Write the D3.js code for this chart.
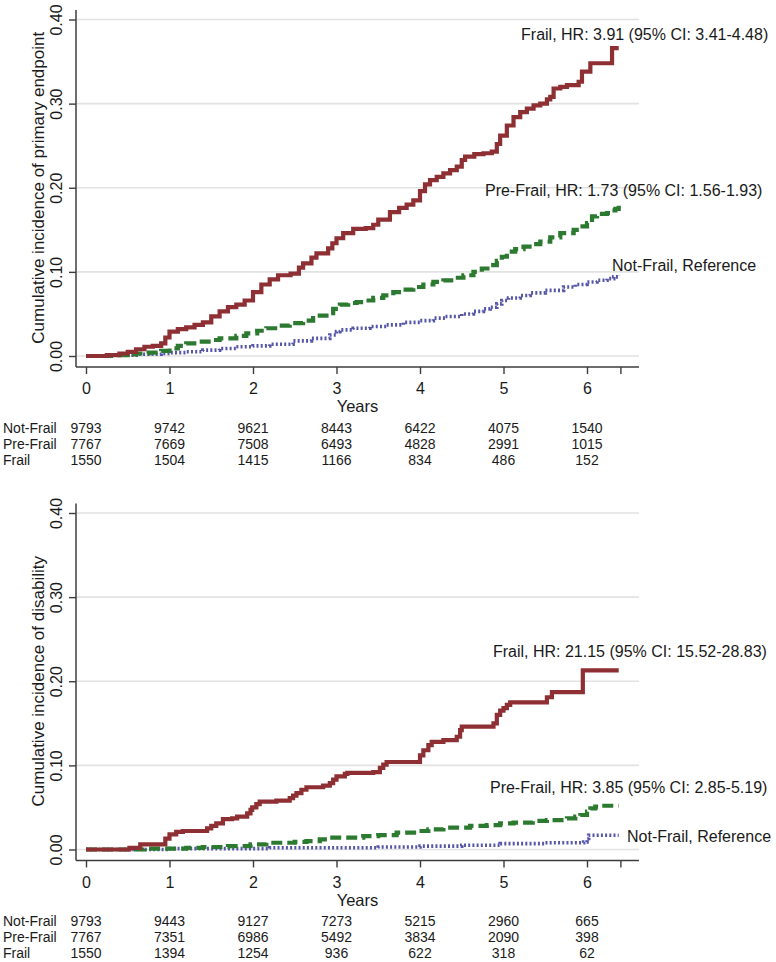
<!DOCTYPE html>
<html>
<head>
<meta charset="utf-8">
<script src="https://cdn.jsdelivr.net/npm/d3@7/dist/d3.min.js"></script>
<style>
  html, body { margin: 0; padding: 0; background: #fff; }
  svg { display: block; font-family: "Liberation Sans", Arial, Helvetica, sans-serif; }
</style>
</head>
<body>
<svg id="chart" width="776" height="962"></svg>
<script>
// ---------------- DATA ----------------
const riskYears = [0, 1, 2, 3, 4, 5, 6];
const groupNames = ["Not-Frail", "Pre-Frail", "Frail"];
const yTickValues = [0, 0.1, 0.2, 0.3, 0.4];
const xTickValues = [0, 1, 2, 3, 4, 5, 6, 6.4];

// Panel 1: primary endpoint
const topTitle = "Cumulative incidence of primary endpoint";
const topFrailT = [0,0.25,0.4,0.5,0.6,0.7,0.8,0.9,0.95,1.0,1.1,1.2,1.3,1.4,1.5,1.6,1.7,1.8,1.9,2.0,2.1,2.2,2.3,2.45,2.55,2.6,2.7,2.76,2.9,2.95,3.0,3.08,3.2,3.35,3.44,3.5,3.64,3.75,3.84,3.92,4.0,4.06,4.12,4.2,4.28,4.36,4.44,4.5,4.54,4.65,4.76,4.86,4.92,4.96,5.04,5.12,5.2,5.28,5.36,5.44,5.52,5.56,5.6,5.68,5.76,5.9,5.94,6.04,6.28,6.3,6.38];
const topFrailV = [0,0.001,0.003,0.005,0.008,0.011,0.012,0.015,0.022,0.029,0.032,0.034,0.037,0.040,0.047,0.053,0.058,0.061,0.066,0.076,0.085,0.091,0.096,0.098,0.105,0.110,0.117,0.122,0.128,0.134,0.140,0.146,0.151,0.152,0.156,0.162,0.171,0.176,0.180,0.185,0.196,0.204,0.209,0.213,0.217,0.221,0.225,0.233,0.237,0.240,0.241,0.243,0.252,0.262,0.274,0.284,0.290,0.294,0.298,0.300,0.305,0.308,0.318,0.320,0.322,0.326,0.338,0.348,0.348,0.366,0.366];
const topPreT = [0,0.3,0.5,0.6,0.75,0.9,1.0,1.1,1.2,1.35,1.5,1.6,1.8,1.92,2.05,2.16,2.3,2.44,2.6,2.72,2.8,2.88,2.96,3.04,3.14,3.24,3.34,3.44,3.56,3.68,3.8,3.92,4.04,4.16,4.28,4.4,4.52,4.64,4.74,4.84,4.92,4.98,5.04,5.14,5.24,5.34,5.44,5.56,5.68,5.84,5.92,6.0,6.06,6.12,6.24,6.3,6.34,6.38];
const topPreV = [0,0.001,0.002,0.003,0.004,0.006,0.009,0.012,0.015,0.017,0.019,0.021,0.024,0.027,0.030,0.033,0.036,0.039,0.042,0.045,0.048,0.051,0.056,0.061,0.063,0.064,0.066,0.069,0.072,0.076,0.079,0.082,0.085,0.088,0.090,0.093,0.096,0.100,0.104,0.108,0.113,0.118,0.124,0.127,0.130,0.133,0.136,0.141,0.146,0.150,0.154,0.158,0.166,0.169,0.170,0.173,0.175,0.180];
const topNotT = [0,0.3,0.6,0.9,1.0,1.2,1.4,1.6,1.8,2.0,2.2,2.48,2.7,2.92,3.0,3.04,3.2,3.4,3.6,3.8,4.0,4.16,4.3,4.5,4.64,4.76,4.84,4.92,4.98,5.06,5.2,5.32,5.5,5.72,5.86,6.0,6.12,6.24,6.32,6.38];
const topNotV = [0,0.001,0.002,0.003,0.004,0.005,0.007,0.009,0.011,0.012,0.014,0.018,0.021,0.025,0.029,0.031,0.033,0.035,0.037,0.040,0.042,0.045,0.047,0.050,0.053,0.056,0.058,0.062,0.066,0.069,0.072,0.075,0.078,0.082,0.085,0.088,0.090,0.092,0.094,0.096];
const topRiskNot = [9793, 9742, 9621, 8443, 6422, 4075, 1540];
const topRiskPre = [7767, 7669, 7508, 6493, 4828, 2991, 1015];
const topRiskFrail = [1550, 1504, 1415, 1166, 834, 486, 152];
const topLabelText = ["Frail, HR: 3.91 (95% CI: 3.41-4.48)", "Pre-Frail, HR: 1.73 (95% CI: 1.56-1.93)", "Not-Frail, Reference"];
const topLabelT = [5.21, 4.778, 6.30];
const topLabelV = [0.3762, 0.1902, 0.101];

// Panel 2: disability
const botTitle = "Cumulative incidence of disability";
const botFrailT = [0,0.5,0.52,0.65,0.92,0.95,1.0,1.08,1.16,1.4,1.45,1.5,1.56,1.64,1.75,1.81,1.93,1.97,1.99,2.04,2.08,2.28,2.44,2.48,2.52,2.58,2.64,2.84,2.92,2.96,3.0,3.1,3.13,3.44,3.52,3.56,3.6,3.96,4.0,4.04,4.1,4.14,4.28,4.44,4.48,4.5,4.84,4.88,4.92,4.96,5.0,5.04,5.08,5.48,5.52,5.58,5.93,5.95,6.38];
const botFrailV = [0,0,0.002,0.006,0.006,0.013,0.018,0.021,0.022,0.022,0.025,0.028,0.031,0.036,0.037,0.039,0.043,0.047,0.050,0.054,0.057,0.058,0.061,0.064,0.067,0.071,0.074,0.076,0.079,0.083,0.087,0.090,0.091,0.092,0.097,0.101,0.104,0.104,0.112,0.118,0.124,0.128,0.130,0.134,0.142,0.146,0.146,0.150,0.160,0.165,0.168,0.172,0.175,0.175,0.181,0.187,0.187,0.213,0.213];
const botPreT = [0,0.6,0.7,1.2,1.4,1.7,1.97,2.16,2.5,2.64,2.8,2.92,3.32,3.5,3.72,3.96,4.1,4.28,4.6,4.8,4.96,5.12,5.35,5.52,5.76,5.86,5.92,6.0,6.04,6.1,6.16,6.38];
const botPreV = [0,0,0.001,0.002,0.003,0.004,0.006,0.008,0.009,0.010,0.012,0.014,0.016,0.017,0.020,0.022,0.024,0.026,0.028,0.029,0.031,0.032,0.034,0.035,0.037,0.039,0.041,0.045,0.049,0.051,0.052,0.052];
const botNotT = [0,0.8,1.0,1.8,2.2,3.0,3.5,4.0,4.5,4.96,5.5,5.96,6.0,6.02,6.38];
const botNotV = [0,0,0.001,0.001,0.002,0.002,0.003,0.004,0.005,0.007,0.008,0.009,0.013,0.017,0.017];
const botRiskNot = [9793, 9443, 9127, 7273, 5215, 2960, 665];
const botRiskPre = [7767, 7351, 6986, 5492, 3834, 2090, 398];
const botRiskFrail = [1550, 1394, 1254, 936, 622, 318, 62];
const botLabelText = ["Frail, HR: 21.15 (95% CI: 15.52-28.83)", "Pre-Frail, HR: 3.85 (95% CI: 2.85-5.19)", "Not-Frail, Reference"];
const botLabelT = [4.874, 4.838, 6.479];
const botLabelV = [0.229, 0.0675, 0.0095];

// ---------------- STYLES ----------------
const seriesStyle = {
  frail: { color: "#8e2f33", width: 4.2, dash: null },
  pre:   { color: "#2b7a30", width: 4.2, dash: "11,5" },
  not:   { color: "#5656a8", width: 3.6, dash: "2,2.2" }
};

const svg = d3.select("#chart");

function zip(t, v) { return t.map((d, i) => ({ t: d, v: v[i] })); }

function drawPanel(cfg) {
  const g = svg.append("g").attr("transform", `translate(0,${cfg.dy})`);
  const x = d3.scaleLinear().domain([0, 6]).range([86, 587]);
  const y = d3.scaleLinear().domain([0, 0.4]).range([356, 19.5]);
  const axisColor = "#3c3c3c";
  const xLeft = 76, xRight = 639, yTop = 10, yAxis = 367;

  // gridlines
  g.append("g").selectAll("line").data(yTickValues).join("line")
    .attr("x1", xLeft + 1).attr("x2", xRight)
    .attr("y1", d => y(d)).attr("y2", d => y(d))
    .attr("stroke", "#e2e2e2").attr("stroke-width", 1.6);

  // curves
  const line = d3.line().x(d => x(d.t)).y(d => y(d.v)).curve(d3.curveStepAfter);
  cfg.series.forEach(s => {
    const st = seriesStyle[s.key];
    g.append("path").datum(zip(s.t, s.v))
      .attr("d", line)
      .attr("fill", "none")
      .attr("stroke", st.color)
      .attr("stroke-width", st.width)
      .attr("stroke-linejoin", "miter")
      .attr("stroke-dasharray", st.dash);
  });

  // y axis
  const yAxisG = g.append("g").attr("transform", `translate(${xLeft},0)`)
    .call(d3.axisLeft(y).tickValues(yTickValues).tickSize(7).tickFormat(d3.format(".2f")));
  yAxisG.select(".domain").remove();
  yAxisG.selectAll(".tick line").attr("stroke", axisColor).attr("stroke-width", 1.4);
  yAxisG.selectAll(".tick text")
    .attr("transform", "rotate(-90)")
    .attr("x", 0).attr("y", -14).attr("dy", 0)
    .attr("text-anchor", "middle")
    .attr("font-size", 16).attr("fill", "#1a1a1a")
    .attr("font-family", '"Liberation Sans", Arial, sans-serif');
  g.append("line").attr("x1", xLeft).attr("x2", xLeft).attr("y1", yTop).attr("y2", yAxis)
    .attr("stroke", axisColor).attr("stroke-width", 1.5);

  // x axis
  const xAxisG = g.append("g").attr("transform", `translate(0,${yAxis})`)
    .call(d3.axisBottom(x).tickValues(xTickValues).tickSize(7)
      .tickFormat(d => Number.isInteger(d) ? d3.format("d")(d) : ""));
  xAxisG.select(".domain").remove();
  xAxisG.selectAll(".tick line").attr("stroke", axisColor).attr("stroke-width", 1.4);
  xAxisG.selectAll(".tick text").attr("y", 27).attr("dy", 0)
    .attr("font-size", 16).attr("fill", "#1a1a1a")
    .attr("font-family", '"Liberation Sans", Arial, sans-serif');
  g.append("line").attr("x1", xLeft).attr("x2", xRight).attr("y1", yAxis).attr("y2", yAxis)
    .attr("stroke", axisColor).attr("stroke-width", 1.5);

  // axis titles
  g.append("text")
    .attr("transform", `translate(43.5,${(y(0) + y(0.4)) / 2}) rotate(-90)`)
    .attr("text-anchor", "middle").attr("font-size", 17).attr("fill", "#1a1a1a")
    .text(cfg.title);
  g.append("text").attr("x", (xLeft + xRight) / 2).attr("y", 412)
    .attr("text-anchor", "middle").attr("font-size", 16.5).attr("fill", "#1a1a1a")
    .text("Years");

  // curve labels
  g.append("g").selectAll("text").data(cfg.labels.text).join("text")
    .attr("x", (d, i) => x(cfg.labels.t[i]))
    .attr("y", (d, i) => y(cfg.labels.v[i]))
    .attr("font-size", 16).attr("fill", "#1a1a1a")
    .text(d => d);

  // risk table
  const rowY = [432.5, 448.5, 464.5];
  const tbl = g.append("g").attr("font-size", 14).attr("fill", "#1a1a1a");
  groupNames.forEach((name, r) => {
    tbl.append("text").attr("x", 3).attr("y", rowY[r]).text(name);
    tbl.append("g").selectAll("text").data(cfg.risk[r]).join("text")
      .attr("x", (d, i) => x(riskYears[i]))
      .attr("y", rowY[r])
      .attr("text-anchor", "middle")
      .text(d => d);
  });
}

drawPanel({
  dy: 0,
  title: topTitle,
  series: [
    { key: "not", t: topNotT, v: topNotV },
    { key: "pre", t: topPreT, v: topPreV },
    { key: "frail", t: topFrailT, v: topFrailV }
  ],
  labels: { text: topLabelText, t: topLabelT, v: topLabelV },
  risk: [topRiskNot, topRiskPre, topRiskFrail]
});

drawPanel({
  dy: 493.5,
  title: botTitle,
  series: [
    { key: "not", t: botNotT, v: botNotV },
    { key: "pre", t: botPreT, v: botPreV },
    { key: "frail", t: botFrailT, v: botFrailV }
  ],
  labels: { text: botLabelText, t: botLabelT, v: botLabelV },
  risk: [botRiskNot, botRiskPre, botRiskFrail]
});
</script>
</body>
</html>
